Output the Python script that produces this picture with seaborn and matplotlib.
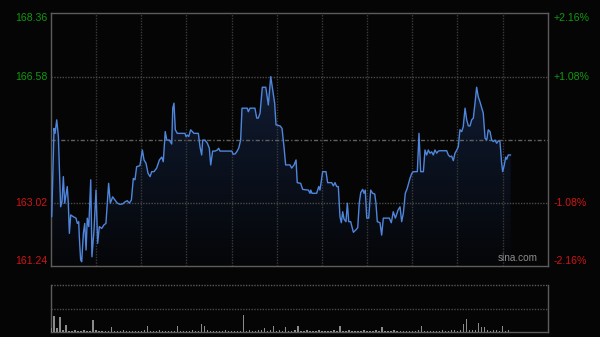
import numpy as np
import pandas as pd
import matplotlib
matplotlib.use("Agg")
import matplotlib.pyplot as plt
import seaborn as sns
from matplotlib.colors import LinearSegmentedColormap
from matplotlib.patches import PathPatch
from matplotlib.transforms import blended_transform_factory

# ---------------- data ----------------
minutes = [0.5, 2.0, 2.7, 3.8, 4.9, 6.4, 7.3, 8.2, 9.1, 10.8, 11.5, 12.2, 13.1, 14.8, 16.6, 17.5,
           18.4, 18.8, 19.7, 20.4, 21.5, 22.4, 23.3, 24.1, 25.1, 26.4, 27.2, 28.6, 29.9, 31.0, 32.1,
           33.7, 35.2, 36.5, 38.3, 39.4, 41.0, 42.5, 44.1, 45.8, 47.6, 49.2, 50.7, 52.0, 53.4, 54.7,
           55.8, 56.9, 59.1, 60.7, 61.8, 63.1, 64.5, 65.8, 66.9, 68.4, 70.2, 72.0, 73.6, 74.6, 75.9,
           76.9, 78.6, 80.2, 80.9, 81.7, 82.6, 83.9, 89.0, 89.7, 90.6, 91.5, 92.8, 93.9, 95.0, 97.9,
           99.0, 100.1, 100.8, 102.3, 103.9, 105.2, 106.1, 107.4, 109.0, 110.5, 111.4, 112.3, 120.1,
           121.1, 122.3, 123.4, 124.7, 126.0, 126.9, 130.4, 131.1, 132.2, 135.5, 136.7, 137.7, 138.9,
           140.4, 142.7, 144.4, 146.0, 147.3, 148.6, 149.5, 152.2, 153.5, 154.8, 155.9, 158.8, 159.9,
           161.5, 162.8, 163.6, 165.9, 167.2, 171.0, 172.1, 172.6, 173.4, 176.5, 177.9, 178.7, 180.5,
           182.7, 183.8, 186.5, 187.6, 188.7, 189.8, 190.9, 192.0, 192.9, 193.8, 194.7, 196.0, 196.9,
           197.8, 199.1, 200.9, 202.6, 203.8, 204.8, 205.8, 207.1, 208.0, 208.8, 209.8, 211.1, 212.4,
           213.7, 215.1, 215.9, 216.8, 218.6, 219.7, 220.8, 224.8, 226.1, 227.4, 228.8, 230.6, 231.9,
           233.0, 234.1, 235.4, 236.7, 238.5, 239.7, 240.7, 243.4, 244.5, 245.6, 247.4, 248.5, 249.6,
           250.7, 251.8, 252.9, 254.0, 255.1, 256.3, 257.3, 258.5, 262.9, 264.0, 265.1, 266.2, 267.3,
           268.4, 269.6, 270.6, 271.7, 272.9, 273.9, 275.1, 276.2, 277.3, 278.4, 279.5, 280.6, 281.7,
           282.8, 283.9, 285.0, 286.2, 287.2, 288.4, 289.5, 290.5, 291.7, 292.8, 293.9, 295.0, 296.1,
           297.2, 298.3, 299.4, 300.1, 301.2, 302.1, 302.8, 303.8, 305.4]

prices = [162.63, 165.12, 164.98, 165.36, 164.89, 162.91, 163.05, 163.76, 163.01, 163.48, 163.01,
          162.16, 162.68, 162.63, 162.59, 162.44, 162.49, 162.07, 161.41, 161.36, 162.16, 162.44,
          161.69, 162.59, 162.35, 163.67, 161.50, 162.26, 163.38, 161.88, 162.35, 162.30, 162.40,
          162.44, 163.57, 163.01, 163.19, 163.10, 163.01, 162.98, 162.99, 163.05, 163.08, 163.01,
          163.10, 163.71, 163.67, 164.04, 164.07, 164.51, 164.23, 164.14, 163.85, 163.76, 163.90,
          163.90, 164.00, 164.23, 164.31, 164.18, 165.03, 164.79, 164.79, 164.68, 165.69, 165.83,
          165.08, 164.98, 164.98, 164.89, 164.93, 164.89, 165.08, 165.03, 164.98, 164.98, 164.60,
          164.37, 164.79, 164.79, 164.70, 164.56, 164.09, 164.48, 164.48, 164.51, 164.56, 164.48,
          164.48, 164.39, 164.40, 164.46, 164.56, 164.79, 165.69, 165.69, 165.59, 165.69, 165.69,
          165.41, 165.41, 165.55, 166.28, 166.28, 165.78, 166.58, 166.20, 165.83, 165.22, 165.19,
          165.12, 164.60, 164.09, 164.09, 164.00, 164.09, 164.23, 163.59, 163.57, 163.40, 163.38,
          163.29, 163.38, 163.29, 163.29, 163.48, 163.38, 163.90, 163.90, 163.59, 163.59, 163.50,
          163.59, 163.48, 163.48, 162.63, 162.46, 162.77, 162.56, 162.49, 163.01, 162.49, 162.49,
          162.19, 162.26, 162.32, 163.01, 163.31, 163.40, 163.29, 163.38, 162.59, 162.59, 163.38,
          163.29, 163.27, 163.01, 162.49, 162.46, 162.11, 162.59, 162.59, 162.46, 162.77, 162.59,
          162.82, 162.91, 162.49, 162.73, 163.29, 163.43, 163.71, 163.85, 163.90, 163.90, 164.98,
          163.90, 163.90, 164.51, 164.37, 164.51, 164.42, 164.46, 164.37, 164.51, 164.42, 164.48,
          164.49, 164.49, 164.37, 164.32, 164.34, 164.21, 164.42, 164.51, 164.60, 165.08, 165.03,
          165.17, 165.69, 165.36, 165.19, 165.19, 165.36, 165.41, 165.83, 166.28, 166.01, 165.87,
          165.69, 165.55, 164.84, 164.79, 165.08, 165.03, 164.79, 164.75, 164.79, 164.70, 164.77,
          164.75, 164.14, 163.90, 164.09, 164.31, 164.25, 164.37, 164.37]

volumes = [8, 34, 8, 31, 4, 15,
           3, 2, 4, 3, 2, 5, 3, 2,
           26,
           4, 3, 2, 3, 2,
           10,
           3, 2, 2, 4, 2, 3, 2, 2, 3, 2, 4,
           13,
           3, 2, 3, 4, 2, 3, 2, 2, 3,
           13,
           2, 3, 2, 2, 4, 3, 2,
           17, 13,
           4, 3, 2, 2, 3, 2, 4, 3, 2, 3, 2, 3,
           36,
           3, 4, 2, 3, 5, 4,
           9,
           3, 4,
           13,
           3, 4, 3,
           10,
           3, 2, 4,
           13,
           3, 2, 4, 3, 2, 3, 4, 2, 3, 2, 3, 4, 3,
           13,
           3, 2, 4, 2, 3, 2, 3, 4, 2, 3, 2, 4, 3,
           10,
           3, 2, 3, 4, 2, 3, 2, 2, 3, 2, 3, 4,
           13,
           3, 2, 3, 2, 2, 3, 4, 2, 3, 5, 4, 3, 5,
           17, 27,
           4, 5, 4,
           20, 10, 11,
           4, 3, 5, 4, 3,
           13,
           3, 4]
vol_minutes = list(range(0, 2 * len(volumes), 2))

prev_close = 164.80
price_min, price_max = 161.24, 168.36
left_ticks = [168.36, 166.58, 163.02, 161.24]
left_labels = ["168.36", "166.58", "163.02", "161.24"]
right_labels = ["+2.16%", "+1.08%", "-1.08%", "-2.16%"]
session_len = 330
grid_minutes = [30, 60, 90, 120, 150, 180, 210, 240, 270, 300]

# ---------------- style ----------------
BG = "#050505"
LINE = "#4f86dc"
SPINE = "#5c5c5c"
GREEN = "#109a10"
RED = "#d01414"

sns.set_style("dark")
plt.rcParams["font.family"] = ["Liberation Sans", "DejaVu Sans"]

fig = plt.figure(figsize=(6, 3.37), dpi=100, facecolor=BG)

# ---------------- price panel ----------------
ax = fig.add_axes([0.085, 0.2107, 0.8278, 0.7493])
ax.set_facecolor(BG)

df = pd.DataFrame({"minute": minutes, "price": prices})

# gradient area under the line
poly = ax.fill_between(df["minute"], df["price"], price_min, color="none", linewidth=0)
cmap = LinearSegmentedColormap.from_list("fillgrad", ["#050608", "#0c1424", "#1a2b48"])
grad = np.linspace(0, 1, 256).reshape(-1, 1)
im = ax.imshow(grad, extent=[0, session_len, price_min, price_max], origin="lower",
               aspect="auto", cmap=cmap, zorder=2)
clip = PathPatch(poly.get_paths()[0], transform=ax.transData, facecolor="none", edgecolor="none")
ax.add_patch(clip)
im.set_clip_path(clip)

sns.lineplot(data=df, x="minute", y="price", ax=ax, color=LINE, linewidth=1.0,
             legend=False, zorder=5)

for m in grid_minutes:
    ax.axvline(m, color="#3a3a3a", linestyle=(0, (1, 1)), linewidth=1.0, zorder=3)
for v in [left_ticks[1], left_ticks[2]]:
    ax.axhline(v, color="#4a4a4a", linestyle=(0, (1, 1)), linewidth=1.0, zorder=3)
ax.axhline(prev_close, color="#606060", linestyle=(0, (3, 1.5, 1, 1.5)), linewidth=1.0, zorder=3)

ax.set_xlim(0, session_len)
ax.set_ylim(price_min, price_max)
ax.set_xticks([])
ax.set_yticks([])
ax.set_xlabel("")
ax.set_ylabel("")
ax.grid(False)
for s in ax.spines.values():
    s.set_visible(True)
    s.set_color(SPINE)
    s.set_linewidth(1.0)

trans = blended_transform_factory(ax.transAxes, ax.transData)
vas = ["top", "center", "center", "bottom"]
cols = [GREEN, GREEN, RED, RED]
for v, lab, rlab, va, c in zip(left_ticks, left_labels, right_labels, vas, cols):
    ax.text(-0.007, v, lab, transform=trans, ha="right", va=va, color=c, fontsize=7.6)
    ax.text(1.011, v, rlab, transform=trans, ha="left", va=va, color=c, fontsize=7.6)

ax.text(0.98, 0.012, "sina.com", transform=ax.transAxes, ha="right", va="bottom",
        color="#8c8c8c", fontsize=7.2, zorder=6)

# ---------------- volume panel ----------------
ax2 = fig.add_axes([0.085, 0.0148, 0.8278, 0.1395])
ax2.set_facecolor(BG)
sns.barplot(x=vol_minutes, y=volumes, native_scale=True, ax=ax2, color="#8a8a8a",
            saturation=1, width=0.45, errorbar=None, linewidth=0, zorder=3)
ax2.set_xlim(0, session_len)
ax2.set_ylim(0, 100)
ax2.set_xticks([])
ax2.set_yticks([])
ax2.set_xlabel("")
ax2.set_ylabel("")
ax2.grid(False)
ax2.axhline(50, color="#4a4a4a", linestyle=(0, (1, 1)), linewidth=1.0, zorder=2)
ax2.axhline(100, color="#5a5a5a", linestyle=(0, (1, 1)), linewidth=1.0, zorder=2, clip_on=False)
ax2.spines["top"].set_visible(False)
for k in ["left", "right", "bottom"]:
    ax2.spines[k].set_visible(True)
    ax2.spines[k].set_color(SPINE)
    ax2.spines[k].set_linewidth(1.0)

fig.savefig("out.png", dpi=100, facecolor=BG)
